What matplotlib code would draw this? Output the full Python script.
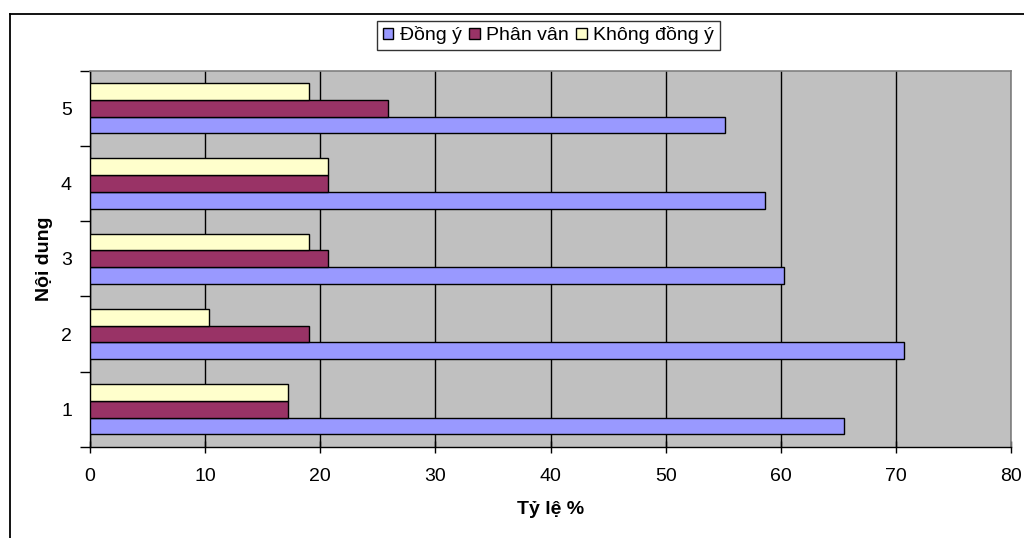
import matplotlib
matplotlib.use("Agg")
import matplotlib.pyplot as plt
import numpy as np
from matplotlib.lines import Line2D

plt.rcParams['font.family'] = ['Liberation Sans', 'DejaVu Sans']

categories = ["1", "2", "3", "4", "5"]
dong_y = [65.5, 70.7, 60.3, 58.6, 55.2]
phan_van = [17.2, 19.0, 20.7, 20.7, 25.9]
khong_dong_y = [17.2, 10.3, 19.0, 20.7, 19.0]
series_names = ["Đồng ý", "Phân vân", "Không đồng ý"]
series_colors = ["#9999FF", "#993366", "#FFFFCC"]
x_ticks = [0, 10, 20, 30, 40, 50, 60, 70, 80]

W, H = 1024, 538
FS = 14

fig = plt.figure(figsize=(W / 100, H / 100), dpi=100)
fig.patch.set_facecolor("white")

# chart frame (top and left edges visible within the canvas)
fig.add_artist(Line2D([9.5 / W, 1.0], [1 - 14 / H, 1 - 14 / H],
                      transform=fig.transFigure, color="black", linewidth=1.3))
fig.add_artist(Line2D([9.5 / W, 9.5 / W], [0.0, 1 - 14 / H],
                      transform=fig.transFigure, color="black", linewidth=1.3))

left, right, top, bottom = 90, 1011, 70.5, 447
ax = fig.add_axes([left / W, 1 - bottom / H, (right - left) / W, (bottom - top) / H])
ax.set_facecolor("#C0C0C0")

y = np.arange(len(categories))
h = 1 / 4.5
series = [dong_y, phan_van, khong_dong_y]
for i, (vals, name, col) in enumerate(zip(series, series_names, series_colors)):
    ax.barh(y + (i - 1) * h, vals, height=h, color=col, edgecolor="black",
            linewidth=1.0, label=name, zorder=3)

ax.set_xlim(0, 80)
ax.set_ylim(-0.5, len(categories) - 0.5)
ax.set_xticks(x_ticks)
ax.set_xticklabels([str(t) for t in x_ticks], fontsize=FS)
ax.xaxis.grid(True, color="black", linewidth=1.0, zorder=1)
ax.set_axisbelow(True)

ax.set_yticks(y)
ax.set_yticklabels(categories, fontsize=FS)
ax.tick_params(axis="y", length=0, pad=13)
ax.set_yticks(np.arange(-0.5, len(categories)), minor=True)
ax.tick_params(axis="y", which="minor", length=7, direction="out", width=1)
ax.tick_params(axis="x", length=8, direction="inout", width=1, pad=11)

ax.spines["top"].set_color("#808080")
ax.spines["right"].set_color("#808080")
ax.spines["top"].set_linewidth(1.2)
ax.spines["right"].set_linewidth(1.2)
ax.spines["left"].set_linewidth(1.0)
ax.spines["bottom"].set_linewidth(1.0)

ax.set_xlabel("Tỷ lệ %", fontsize=FS, fontweight="bold", labelpad=12)
ax.set_ylabel("Nội dung", fontsize=FS, fontweight="bold", labelpad=6)

leg = fig.legend(loc="center", bbox_to_anchor=(548.5 / W, 1 - 35.5 / H), ncol=3,
                 fontsize=FS, frameon=True, fancybox=False, edgecolor="black",
                 handlelength=0.55, handleheight=0.55, handletextpad=0.35,
                 columnspacing=0.35, borderpad=0.3, borderaxespad=0)
leg.get_frame().set_linewidth(1.0)

fig.savefig("out.png", dpi=100)
